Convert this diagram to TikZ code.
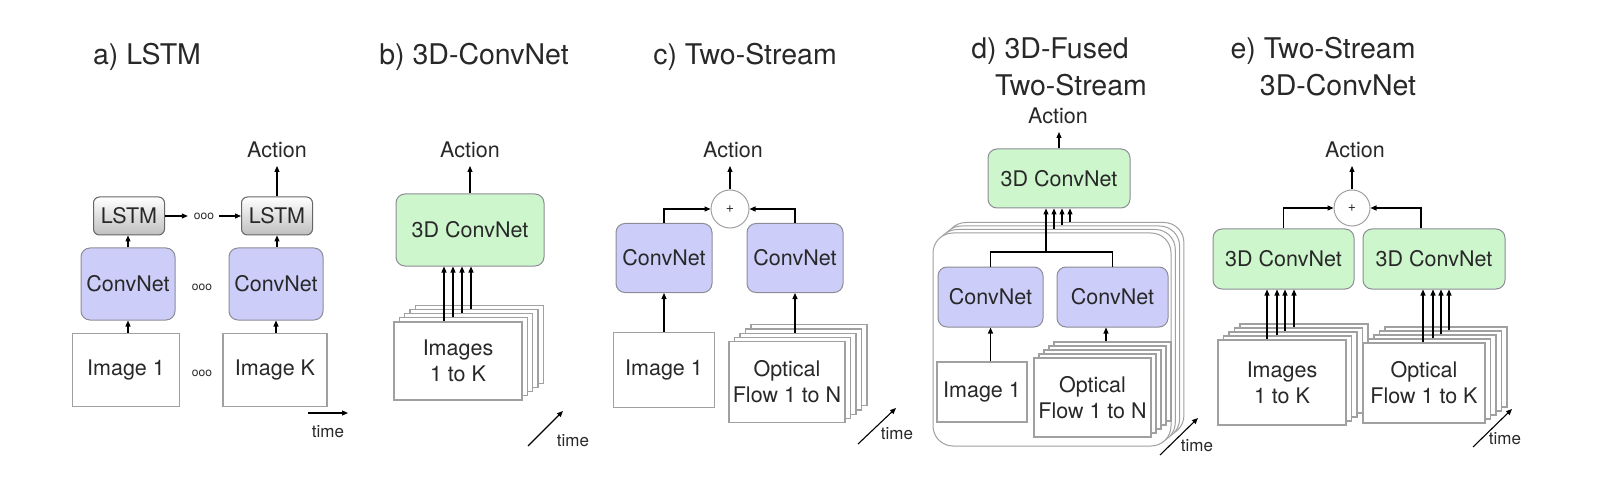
\documentclass[tikz,border=0pt]{standalone}
\usepackage{fontspec}
\setmainfont{TeX Gyre Heros}
\usetikzlibrary{arrows.meta,calc}
\definecolor{cnblue}{RGB}{205,205,250}
\definecolor{cngreen}{RGB}{205,246,205}
\definecolor{bordergray}{RGB}{140,140,150}
\definecolor{boxgray}{RGB}{160,160,160}
\definecolor{txt}{RGB}{40,40,40}
\tikzset{
  base/.style={font=\fontsize{21.5}{26}\selectfont, text=txt, inner sep=0pt, align=center},
  act/.style={base, outer ysep=8pt},
  cnet/.style={base, draw=bordergray, fill=cnblue, rounded corners=9pt, line width=1pt},
  cthree/.style={cnet, fill=cngreen},
  lstmbox/.style={base, draw=gray!80!black, rounded corners=6pt, top color=white, bottom color=gray!50, line width=1pt},
  imgbox/.style={base, draw=boxgray, fill=white, line width=1.2pt},
  layerbox/.style={draw=boxgray, fill=white, line width=1.2pt, inner sep=0pt},
  biglayer/.style={draw=boxgray, fill=white, line width=1pt, rounded corners=20pt, inner sep=0pt},
  arr/.style={-{Triangle[length=6pt,width=5pt]}, line width=1.1pt, black},
  plain/.style={line width=1.1pt, black},
  ttl/.style={font=\fontsize{28.5}{34}\selectfont, text=txt, inner sep=0pt},
  tlabel/.style={font=\fontsize{17}{20}\selectfont, text=txt, inner sep=0pt},
  dots/.style={font=\fontsize{12}{12}\selectfont, text=txt, inner sep=0pt},
  sumnode/.style={circle, draw=boxgray, fill=white, minimum size=38pt, inner sep=0pt, font=\fontsize{14}{14}\selectfont, text=txt, line width=1pt}
}
\begin{document}
\begin{tikzpicture}[x=1pt,y=-1pt]
\useasboundingbox (0,0) rectangle (1601,497);
% ---------------- a) LSTM
\node[ttl] (ta) at (147,57) {a) LSTM};
\node[lstmbox, minimum width=71pt, minimum height=38pt] (l1) at (129,216) {LSTM};
\node[lstmbox, minimum width=71pt, minimum height=38pt] (l2) at (277,216) {LSTM};
\node[cnet, minimum width=94pt, minimum height=72pt] (ca1) at (128,284) {ConvNet};
\node[cnet, minimum width=94pt, minimum height=72pt] (ca2) at (276,284) {ConvNet};
\node[imgbox, minimum width=107pt, minimum height=73pt] (ia1) at (126,370) {Image 1};
\node[imgbox, minimum width=104pt, minimum height=73pt] (ia2) at (275,370) {Image K};
\node[dots] (da1) at (204,216) {ooo};
\node[dots] (da2) at (202,287) {ooo};
\node[dots] (da3) at (202,373) {ooo};
\node[act] (aa) at (277,150) {Action};
\draw[arr] (ia1.north -| ca1.south) -- (ca1.south);
\draw[arr] (ia2.north -| ca2.south) -- (ca2.south);
\draw[arr] (ca1.north) -- (ca1.north |- l1.south);
\draw[arr] (ca2.north -| l2.south) -- (l2.south);
\draw[arr] (l1.east) -- ([xshift=-6pt]da1.west);
\draw[arr] ([xshift=5pt]da1.east) -- (l2.west);
\draw[arr] (l2.north) -- (l2.north |- aa.south);
\coordinate (tA1) at (308,413);
\coordinate (tA2) at (348,413);
\draw[arr] (tA1) -- (tA2);
\node[tlabel] (tla) at (328,432) {time};
% ---------------- b) 3D-ConvNet
\node[ttl] (tb) at (474,57) {b) 3D-ConvNet};
\node[cthree, minimum width=148pt, minimum height=72pt] (cb) at (470,230) {3D ConvNet};
\node[act] (ab) at (470,150) {Action};
\draw[arr] (cb.north) -- (cb.north |- ab.south);
\foreach \i in {4,3,2,1}
  \node[layerbox, minimum width=128pt, minimum height=78pt] (sb\i) at ({458+5.3*\i},{361-4.2*\i}) {};
\node[imgbox, minimum width=128pt, minimum height=78pt] (sb0) at (458,361) {Images\\1 to K};
\coordinate (xb0) at (444,0);
\coordinate (xb1) at (453,0);
\coordinate (xb2) at (462,0);
\coordinate (xb3) at (471,0);
\foreach \i in {0,1,2,3}
  \draw[arr] (sb\i.north -| xb\i) -- (cb.south -| xb\i);
\coordinate (tB1) at (528,446);
\coordinate (tB2) at (563,411);
\draw[arr] (tB1) -- (tB2);
\node[tlabel] (tlb) at (573,441) {time};
% ---------------- c) Two-Stream
\node[ttl] (tc) at (745,57) {c) Two-Stream};
\node[sumnode] (pc) at (730,209) {+};
\node[act] (ac) at (733,150) {Action};
\draw[arr] (pc.north) -- (pc.north |- ac.south);
\node[cnet, minimum width=96pt, minimum height=69pt] (ccl) at (664,258) {ConvNet};
\node[cnet, minimum width=96pt, minimum height=69pt] (ccr) at (795,258) {ConvNet};
\draw[arr] (ccl.north) |- (pc);
\draw[arr] (ccr.north) |- (pc);
\node[imgbox, minimum width=101pt, minimum height=75pt] (ic) at (664,370) {Image 1};
\draw[arr] (ic.north) -- (ccl.south);
\foreach \i in {4,3,2,1}
  \node[layerbox, minimum width=116pt, minimum height=81pt] (sc\i) at ({787+5.5*\i},{382-4.2*\i}) {};
\node[imgbox, minimum width=116pt, minimum height=81pt] (sc0) at (787,382) {Optical\\Flow 1 to N};
\draw[arr] (sc2.north -| ccr.south) -- (ccr.south);
\coordinate (tC1) at (858,444);
\coordinate (tC2) at (896,408);
\draw[arr] (tC1) -- (tC2);
\node[tlabel] (tlc) at (897,434) {time};
% ---------------- d) 3D-Fused Two-Stream
\node[ttl] (td1) at (1050,51) {d) 3D-Fused};
\node[ttl] (td2) at (1071,85) {Two-Stream};
\node[act] (ad) at (1058,116) {Action};
\node[cthree, minimum width=142pt, minimum height=59pt] (cd) at (1059,178.5) {3D ConvNet};
\draw[arr] (cd.north) -- (cd.north |- ad.south);
\foreach \i in {3,2,1}
  \node[biglayer, minimum width=238pt, minimum height=213pt] (bd\i) at ({1052+4.3*\i},{339.5-3.5*\i}) {};
\node[biglayer, minimum width=238pt, minimum height=213pt] (bd0) at (1052,339.5) {};
\node[cnet, minimum width=105pt, minimum height=60pt] (cdl) at (990.5,297) {ConvNet};
\node[cnet, minimum width=111pt, minimum height=60pt] (cdr) at (1112.5,297) {ConvNet};
\node[imgbox, minimum width=90pt, minimum height=60pt] (id) at (982,392) {Image 1};
\draw[arr] (id.north -| cdl.south) -- (cdl.south);
\foreach \i in {4,3,2,1}
  \node[layerbox, minimum width=117pt, minimum height=79pt] (sd\i) at ({1092.5+5*\i},{397.5-4*\i}) {};
\node[imgbox, minimum width=117pt, minimum height=79pt] (sd0) at (1092.5,397.5) {Optical\\Flow 1 to N};
\coordinate (xd5) at (1106,0);
\draw[arr] (sd4.north -| xd5) -- (cdr.south -| xd5);
\coordinate (jd) at (1046,252);
\draw[plain] (cdl.north) |- (jd) -| (cdr.north);
\draw[arr] (jd) -- (jd |- cd.south);
\coordinate (xd1) at (1054,0);
\coordinate (xd2) at (1062,0);
\coordinate (xd3) at (1070,0);
\foreach \i in {1,2,3}
  \draw[arr] (bd\i.north -| xd\i) -- (cd.south -| xd\i);
\coordinate (tD1) at (1160,455);
\coordinate (tD2) at (1198,418);
\draw[arr] (tD1) -- (tD2);
\node[tlabel] (tld) at (1197,446) {time};
% ---------------- e) Two-Stream 3D-ConvNet
\node[ttl] (te1) at (1323,51) {e) Two-Stream};
\node[ttl] (te2) at (1338,85) {3D-ConvNet};
\node[act] (ae) at (1355,150) {Action};
\node[sumnode, minimum size=36pt] (pe) at (1352,208) {+};
\draw[arr] (pe.north) -- (pe.north |- ae.south);
\node[cthree, minimum width=141pt, minimum height=60pt] (cel) at (1283.5,259) {3D ConvNet};
\node[cthree, minimum width=142pt, minimum height=60pt] (cer) at (1434,259) {3D ConvNet};
\coordinate (xe9) at (1421,0);
\draw[arr] (cel.north) |- (pe);
\draw[arr] (cer.north -| xe9) |- (pe);
\foreach \i in {4,3,2,1}
  \node[layerbox, minimum width=128pt, minimum height=85pt] (se\i) at ({1282+5.5*\i},{382.5-4*\i}) {};
\node[imgbox, minimum width=128pt, minimum height=85pt] (se0) at (1282,382.5) {Images\\1 to K};
\coordinate (xe0) at (1267,0);
\coordinate (xe1) at (1277,0);
\coordinate (xe2) at (1285,0);
\coordinate (xe3) at (1294,0);
\foreach \i in {0,1,2,3}
  \draw[arr] (se\i.north -| xe\i) -- (cel.south -| xe\i);
\foreach \i in {4,3,2,1}
  \node[layerbox, minimum width=122pt, minimum height=80pt] (fe\i) at ({1424+5.5*\i},{383-4*\i}) {};
\node[imgbox, minimum width=122pt, minimum height=80pt] (fe0) at (1424,383) {Optical\\Flow 1 to K};
\coordinate (xf0) at (1423,0);
\coordinate (xf1) at (1433,0);
\coordinate (xf2) at (1441,0);
\coordinate (xf3) at (1449,0);
\foreach \i in {0,1,2,3}
  \draw[arr] (fe\i.north -| xf\i) -- (cer.south -| xf\i);
\coordinate (tE1) at (1473,447);
\coordinate (tE2) at (1512,409);
\draw[arr] (tE1) -- (tE2);
\node[tlabel] (tle) at (1505,439) {time};
\end{tikzpicture}
\end{document}
